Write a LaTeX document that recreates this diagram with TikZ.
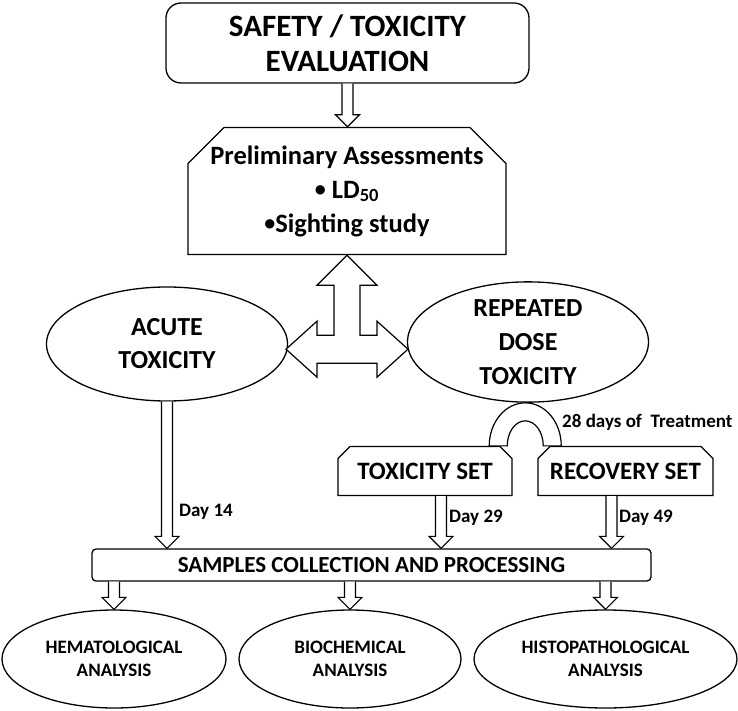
\documentclass[tikz,border=0pt]{standalone}
\usepackage{fontspec}
\setmainfont{Carlito}
\usetikzlibrary{shapes,calc}

\newcommand{\fsz}[2]{\fontsize{#1}{#2}\selectfont}
\newcommand{\smallbul}{\raisebox{1.5pt}{\fsz{22}{22}\textbullet}}
% hollow block arrow going down from #1 to the height of #2
\newcommand{\hollowarrow}[2]{%
  \draw[blockarr] let \p1=(#1), \p2=(#2) in
    (\x1-5.5pt,\y1) -- (\x1-5.5pt,\y2+12pt) -- (\x1-12pt,\y2+12pt) -- (\x1,\y2)
    -- (\x1+12pt,\y2+12pt) -- (\x1+5.5pt,\y2+12pt) -- (\x1+5.5pt,\y1);}

\tikzset{
  box/.style={draw, line width=1.3pt, align=center, inner sep=0pt},
  oval/.style={box, ellipse},
  snip/.style={box, chamfered rectangle, chamfered rectangle corners={north west,north east}},
  blockarr/.style={draw, line width=1.2pt, fill=white, line join=miter},
  lbl/.style={font=\bfseries\fsz{19}{22}, inner sep=0pt, anchor=west}
}

\begin{document}
\begin{tikzpicture}[x=1pt, y=-1pt]
    \useasboundingbox (0,0) rectangle (738,711);

    % title and first step
    \node[box, rounded corners=15pt, minimum width=363pt, minimum height=80pt,
          font=\bfseries\fsz{31}{35}] (top) at (347.5,43) {SAFETY / TOXICITY\\EVALUATION};
    \node[snip, chamfered rectangle xsep=18pt, chamfered rectangle ysep=18pt,
          minimum width=318pt, minimum height=114pt, font=\bfseries\fsz{26.5}{34}]
          (pre) at (347,191) {Preliminary Assessments\\\smallbul\ LD\textsubscript{50}\\\smallbul{}Sighting study};

    % the two studies
    \node[oval, minimum width=241pt, minimum height=114pt, font=\bfseries\fsz{26}{33}]
          (acute) at (167,344) {ACUTE\\TOXICITY};
    \node[oval, minimum width=241pt, minimum height=119pt, font=\bfseries\fsz{26}{34}]
          (rep) at (528,342) {REPEATED\\DOSE\\TOXICITY};

    \node[snip, chamfered rectangle xsep=6pt, chamfered rectangle ysep=6pt,
          minimum width=174pt, minimum height=49pt, font=\bfseries\fsz{25}{28}]
          (tox) at (425,471) {TOXICITY SET};
    \node[snip, chamfered rectangle xsep=6pt, chamfered rectangle ysep=6pt,
          minimum width=175pt, minimum height=49pt, font=\bfseries\fsz{25}{28}]
          (rec) at (625.5,471) {RECOVERY SET};

    \node[box, rounded corners=4pt, minimum width=559pt, minimum height=32pt,
          font=\bfseries\fsz{23}{26}] (samp) at (371.5,565) {SAMPLES COLLECTION AND PROCESSING};

    % analyses
    \node[oval, minimum width=224pt, minimum height=98pt, font=\bfseries\fsz{19}{23}]
          (hemat) at (114,659) {HEMATOLOGICAL\\ANALYSIS};
    \node[oval, minimum width=222pt, minimum height=98pt, font=\bfseries\fsz{19}{23}]
          (bio) at (350,659) {BIOCHEMICAL\\ANALYSIS};
    \node[oval, minimum width=263pt, minimum height=98pt, font=\bfseries\fsz{19}{23}]
          (histo) at (605.5,659) {HISTOPATHOLOGICAL\\ANALYSIS};

    % arrows
    \hollowarrow{top.south}{pre.north}
    \draw[blockarr, shift={(pre.south)}] (0,0) -- (30,30) -- (13,30) -- (13,80) -- (30,80)
        -- (30,66) -- (61,94) -- (30,122) -- (30,108) -- (-30,108) -- (-30,122)
        -- (-61,94) -- (-30,66) -- (-30,80) -- (-13,80) -- (-13,30) -- (-30,30) -- cycle;

    % arch over the two sets
    \coordinate (archfoot) at ($(tox.north)!0.5!(rec.north)$);
    \draw[blockarr, shift={(archfoot)}] (-36,0) arc[start angle=180, end angle=360, x radius=36, y radius=43]
        -- (18,0) arc[start angle=0, end angle=-180, x radius=18, y radius=25] -- cycle;
    \node[lbl] (trt) at (562,422) {28 days of\ \ Treatment};

    \hollowarrow{acute.south}{samp.north}
    \hollowarrow{[xshift=16pt]tox.south}{samp.north}
    \hollowarrow{[xshift=-14pt]rec.south}{samp.north}
    \node[lbl] (d14) at (179,512) {Day 14};
    \node[lbl] (d29) at (449,518) {Day 29};
    \node[lbl] (d49) at (619,518) {Day 49};

    \hollowarrow{samp.south -| hemat.north}{hemat.north}
    \hollowarrow{samp.south -| bio.north}{bio.north}
    \hollowarrow{samp.south -| histo.north}{histo.north}
\end{tikzpicture}
\end{document}
